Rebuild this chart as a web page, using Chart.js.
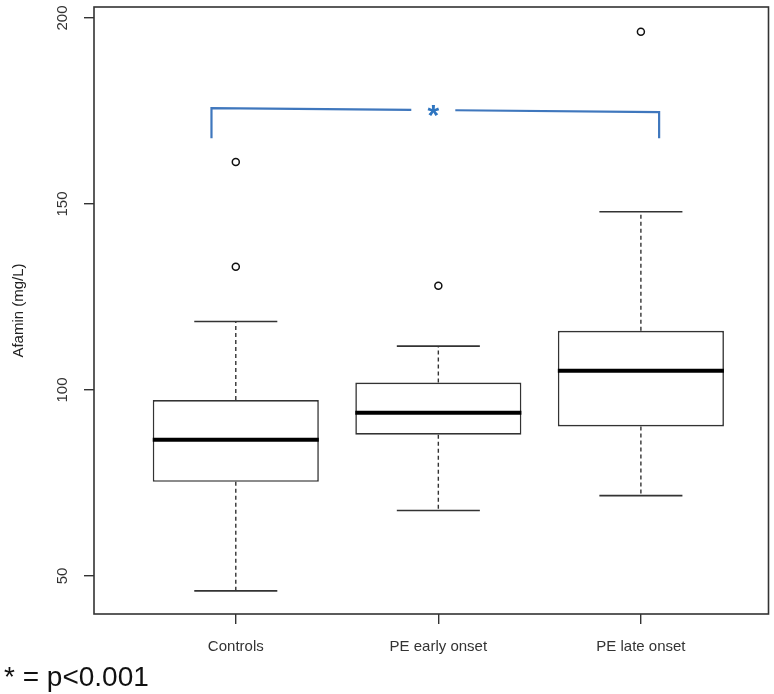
<!DOCTYPE html>
<html>
<head>
<meta charset="utf-8">
<script src="https://cdn.jsdelivr.net/npm/chart.js@4.4.1/dist/chart.umd.min.js"></script>
<style>
  html, body { margin: 0; padding: 0; background: #fff; }
  #wrap { width: 774px; height: 694px; position: relative; }
</style>
</head>
<body>
<div id="wrap"><canvas id="afaminChart"></canvas></div>
<script>
// Boxplot data (mg/L)
var categories = ["Controls", "PE early onset", "PE late onset"];
var lowerWhisker = [46.0, 67.6, 71.6];
var q1 = [75.3, 88.0, 90.2];
var median = [86.6, 93.9, 105.2];
var q3 = [97.3, 102.0, 115.9];
var upperWhisker = [118.4, 111.8, 147.9];
var outlierGroup = [1, 1, 2, 3];
var outlierValue = [161.3, 133.1, 128.0, 196.3];
var yTicks = [50, 100, 150, 200];

// significance bracket between Controls and PE late onset (axis units)
var bracketX = [0.88, 3.09];
var bracketTop = [175.8, 174.7];
var bracketFoot = 167.7;

var boxWidth = 0.82;
var capWidth = 0.41;

var boxData = categories.map(function (c, i) { return { x: i + 1, y: [q1[i], q3[i]] }; });
var outlierData = outlierGroup.map(function (g, i) { return { x: g, y: outlierValue[i] }; });

// whiskers, medians, bracket, frame and texts
var boxExtras = {
    id: 'boxExtras',
    afterDatasetsDraw: function (chart) {
        var ctx = chart.ctx;
        var xs = chart.scales.x, ys = chart.scales.y;
        ctx.save();
        for (var i = 0; i < categories.length; i++) {
            var cx = xs.getPixelForValue(i + 1);
            var capHalf = (xs.getPixelForValue(i + 1 + capWidth / 2) - cx);
            var boxHalf = (xs.getPixelForValue(i + 1 + boxWidth / 2) - cx);
            // dashed whiskers
            ctx.strokeStyle = '#333';
            ctx.lineWidth = 1.4;
            ctx.setLineDash([4, 3]);
            ctx.beginPath();
            ctx.moveTo(cx, ys.getPixelForValue(q3[i]));
            ctx.lineTo(cx, ys.getPixelForValue(upperWhisker[i]));
            ctx.moveTo(cx, ys.getPixelForValue(q1[i]));
            ctx.lineTo(cx, ys.getPixelForValue(lowerWhisker[i]));
            ctx.stroke();
            ctx.setLineDash([]);
            // caps
            ctx.lineWidth = 1.6;
            ctx.beginPath();
            ctx.moveTo(cx - capHalf, ys.getPixelForValue(upperWhisker[i]));
            ctx.lineTo(cx + capHalf, ys.getPixelForValue(upperWhisker[i]));
            ctx.moveTo(cx - capHalf, ys.getPixelForValue(lowerWhisker[i]));
            ctx.lineTo(cx + capHalf, ys.getPixelForValue(lowerWhisker[i]));
            ctx.stroke();
            // median
            ctx.strokeStyle = '#000';
            ctx.lineWidth = 4;
            ctx.beginPath();
            ctx.moveTo(cx - boxHalf, ys.getPixelForValue(median[i]));
            ctx.lineTo(cx + boxHalf, ys.getPixelForValue(median[i]));
            ctx.stroke();
        }

        // bracket
        var bx0 = xs.getPixelForValue(bracketX[0]), bx1 = xs.getPixelForValue(bracketX[1]);
        var by0 = ys.getPixelForValue(bracketTop[0]), by1 = ys.getPixelForValue(bracketTop[1]);
        var foot = ys.getPixelForValue(bracketFoot);
        var mid = (bx0 + bx1) / 2 - 2;
        var gap = 22;
        var t = (mid - gap - bx0) / (bx1 - bx0);
        var t2 = (mid + gap - bx0) / (bx1 - bx0);
        ctx.strokeStyle = '#3f77bd';
        ctx.lineWidth = 2.2;
        ctx.beginPath();
        ctx.moveTo(bx0, foot);
        ctx.lineTo(bx0, by0);
        ctx.lineTo(mid - gap, by0 + (by1 - by0) * t);
        ctx.moveTo(mid + gap, by0 + (by1 - by0) * t2);
        ctx.lineTo(bx1, by1);
        ctx.lineTo(bx1, foot);
        ctx.stroke();
        ctx.fillStyle = '#2e75c0';
        ctx.font = 'bold 30px "Liberation Sans", Arial, sans-serif';
        ctx.textAlign = 'center';
        ctx.textBaseline = 'alphabetic';
        var m = ctx.measureText('*');
        var starY = (by0 + by1) / 2 + 1;
        ctx.fillText('*', mid, starY + (m.actualBoundingBoxAscent - m.actualBoundingBoxDescent) / 2);
        ctx.restore();
    },
    afterDraw: function (chart) {
        var ctx = chart.ctx, a = chart.chartArea;
        var ys = chart.scales.y;
        ctx.save();
        // plot frame
        ctx.strokeStyle = '#333';
        ctx.lineWidth = 1.6;
        ctx.strokeRect(a.left, a.top, a.right - a.left, a.bottom - a.top);
        // rotated y tick labels, R style
        ctx.fillStyle = '#333';
        ctx.font = '15px "Liberation Sans", Arial, sans-serif';
        ctx.textAlign = 'center';
        ctx.textBaseline = 'middle';
        yTicks.forEach(function (v) {
            ctx.save();
            ctx.translate(a.left - 31, ys.getPixelForValue(v));
            ctx.rotate(-Math.PI / 2);
            ctx.fillText(String(v), 0, 0);
            ctx.restore();
        });
        // footnote
        ctx.fillStyle = '#111';
        ctx.font = '28px "Liberation Sans", Arial, sans-serif';
        ctx.textAlign = 'left';
        ctx.textBaseline = 'alphabetic';
        ctx.fillText('* = p<0.001', 4, 686);
        ctx.restore();
    }
};

var ctx = document.getElementById('afaminChart').getContext('2d');
var myChart = new Chart(ctx, {
    type: 'bar',
    data: {
        datasets: [
            {
                label: 'IQR',
                data: boxData,
                backgroundColor: '#fff',
                borderColor: '#333',
                borderWidth: 1.6,
                borderSkipped: false,
                barPercentage: boxWidth,
                categoryPercentage: 1,
                grouped: false
            },
            {
                type: 'scatter',
                label: 'Outliers',
                data: outlierData,
                pointStyle: 'circle',
                pointRadius: 3.5,
                pointBorderWidth: 1.5,
                pointBackgroundColor: '#fff',
                pointBorderColor: '#111'
            }
        ]
    },
    options: {
        responsive: true,
        maintainAspectRatio: false,
        animation: false,
        events: [],
        layout: { padding: { top: 7, right: 5, left: 0, bottom: 0 } },
        plugins: { legend: { display: false }, tooltip: { enabled: false } },
        scales: {
            x: {
                type: 'linear',
                min: 0.30,
                max: 3.63,
                offset: false,
                afterBuildTicks: function (scale) {
                    scale.ticks = categories.map(function (c, i) { return { value: i + 1 }; });
                },
                afterFit: function (scale) { scale.height = 80; },
                border: { display: false },
                grid: { offset: false, drawOnChartArea: false, drawTicks: true, tickLength: 10, tickColor: '#333', lineWidth: 1.4 },
                ticks: {
                    autoSkip: false,
                    maxRotation: 0,
                    padding: 14,
                    color: '#333',
                    font: { family: '"Liberation Sans", Arial, sans-serif', size: 15 },
                    callback: function (v) { return categories[v - 1]; }
                }
            },
            y: {
                type: 'linear',
                min: 39.78,
                max: 202.96,
                afterBuildTicks: function (scale) {
                    scale.ticks = yTicks.map(function (v) { return { value: v }; });
                },
                afterFit: function (scale) { scale.width = 94; },
                border: { display: false },
                grid: { drawOnChartArea: false, drawTicks: true, tickLength: 10, tickColor: '#333', lineWidth: 1.4 },
                ticks: { display: false },
                title: {
                    display: true,
                    text: 'Afamin (mg/L)',
                    color: '#222',
                    padding: { top: 10, bottom: 0 },
                    font: { family: '"Liberation Sans", Arial, sans-serif', size: 15 }
                }
            }
        }
    },
    plugins: [boxExtras]
});
</script>
</body>
</html>
